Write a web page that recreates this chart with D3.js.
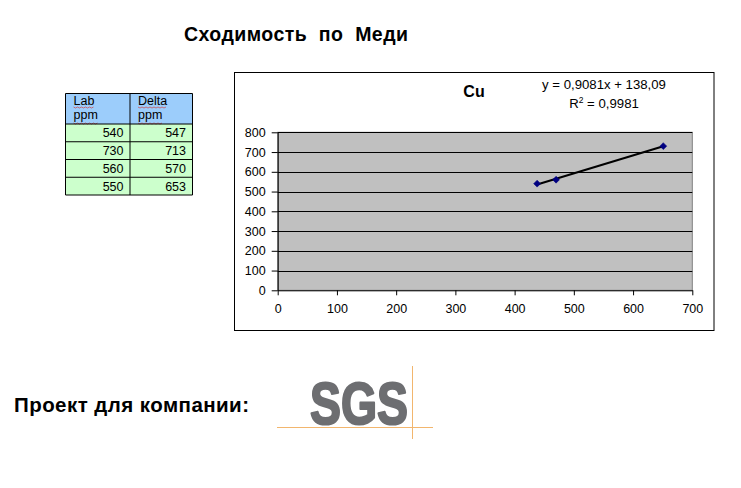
<!DOCTYPE html>
<html><head><meta charset="utf-8">
<script src="https://cdn.jsdelivr.net/npm/d3@7/dist/d3.min.js"></script>
<style>html,body{margin:0;padding:0;background:#fff;}svg{display:block;}text{font-family:"Liberation Sans",Arial,sans-serif;}</style>
</head><body>
<svg id="c" width="741" height="488"></svg>
<script>
// ---- data ----
const pageTitle = "Сходимость  по  Меди";
const footerText = "Проект для компании:";
const logoText = "SGS";
const tableHeaders = [["Lab", "ppm"], ["Delta", "ppm"]];
const labValues = [540, 730, 560, 550];
const deltaValues = [547, 713, 570, 653];
const chartTitle = "Cu";
const xValues = [438, 470, 651];
const yValues = [540, 560, 730];
const trendSlope = 0.9081;
const trendIntercept = 138.09;
const equationText = "y = 0,9081x + 138,09";
const r2Text = "0,9981";
const xTicks = [0, 100, 200, 300, 400, 500, 600, 700];
const yTicks = [0, 100, 200, 300, 400, 500, 600, 700, 800];

const svg = d3.select("#c");
svg.append("rect").attr("width", 741).attr("height", 488).attr("fill", "#fff");

// page title
svg.append("text").attr("x", 184).attr("y", 41).attr("font-size", 19.5).attr("font-weight", "bold")
  .attr("textLength", 224).attr("lengthAdjust", "spacing")
  .attr("xml:space", "preserve").style("white-space", "pre").text(pageTitle);

// ---- table ----
const colX = [65.5, 130, 192.5];
const headTop = 93.5, bodyTop = 124, rowH = 17.75;
const tg = svg.append("g");
tg.append("rect").attr("x", colX[0]).attr("y", headTop).attr("width", colX[2] - colX[0]).attr("height", bodyTop - headTop)
  .attr("fill", "#9ccdfb");
tg.append("rect").attr("x", colX[0]).attr("y", bodyTop).attr("width", colX[2] - colX[0]).attr("height", rowH * labValues.length)
  .attr("fill", "#ccffcc");
tableHeaders.forEach((h, i) => {
  h.forEach((w, j) => {
    const tx = colX[i] + 8, ty = 105 + j * 13.5;
    const t = tg.append("text").attr("x", tx).attr("y", ty).attr("font-size", 12.5).text(w);
    const wlen = t.node().getComputedTextLength();
    // spell-check squiggle
    const pts = [];
    for (let k = 0; k <= wlen; k += 2) pts.push([tx + k, ty + 2 + (((k / 2) % 2) ? 1 : 0) + (j === 1 ? 2.5 : 0)]);
    tg.append("path").attr("d", d3.line()(pts)).attr("fill", "none").attr("stroke", "#d04040").attr("stroke-width", 0.7);
  });
});
const rows = labValues.map((v, i) => [v, deltaValues[i]]);
rows.forEach((r, i) => {
  r.forEach((v, j) => {
    tg.append("text").attr("x", colX[j + 1] - 6.5).attr("y", bodyTop + rowH * i + rowH / 2 + 4.5)
      .attr("font-size", 12.5).attr("text-anchor", "end").text(v);
  });
});
// grid lines of table
const hl = [headTop, bodyTop].concat(labValues.map((_, i) => bodyTop + rowH * (i + 1)));
hl.forEach(y => tg.append("line").attr("x1", colX[0]).attr("x2", colX[2]).attr("y1", y).attr("y2", y).attr("stroke", "#000"));
colX.forEach(x => tg.append("line").attr("x1", x).attr("x2", x).attr("y1", headTop).attr("y2", hl[hl.length - 1]).attr("stroke", "#000"));

// ---- chart ----
svg.append("rect").attr("x", 234.5).attr("y", 72.5).attr("width", 479.5).attr("height", 258)
  .attr("fill", "#fff").attr("stroke", "#000");
const pl = 277.7, pr = 692.3, pt = 132.3, pb = 290.3;
const x = d3.scaleLinear().domain([0, 700]).range([pl, pr]);
const y = d3.scaleLinear().domain([0, 800]).range([pb, pt]);

svg.append("rect").attr("x", pl).attr("y", pt).attr("width", pr - pl).attr("height", pb - pt)
  .attr("fill", "#c0c0c0").attr("stroke", "#808080");
svg.append("g").selectAll("line").data(yTicks.filter(d => d > 0)).join("line")
  .attr("x1", pl).attr("x2", pr).attr("y1", d => Math.round(y(d)) + 0.5).attr("y2", d => Math.round(y(d)) + 0.5)
  .attr("stroke", "#000");

const yAxis = svg.append("g").attr("transform", `translate(${pl},0)`)
  .call(d3.axisLeft(y).tickValues(yTicks).tickSize(6).tickPadding(6).tickSizeOuter(0));
const xAxis = svg.append("g").attr("transform", `translate(0,${pb})`)
  .call(d3.axisBottom(x).tickValues(xTicks).tickSize(5).tickPadding(9).tickSizeOuter(0));
[yAxis, xAxis].forEach(a => {
  a.selectAll("text").attr("font-size", 12.5).attr("fill", "#000").attr("font-family", "Liberation Sans, Arial, sans-serif");
  a.selectAll("line").attr("stroke", "#000");
  a.select(".domain").attr("stroke", "#000");
});

// trendline
const xMin = d3.min(xValues), xMax = d3.max(xValues);
svg.append("line").attr("x1", x(xMin)).attr("y1", y(trendSlope * xMin + trendIntercept))
  .attr("x2", x(xMax)).attr("y2", y(trendSlope * xMax + trendIntercept))
  .attr("stroke", "#000").attr("stroke-width", 2);

// markers
const pts = xValues.map((v, i) => [v, yValues[i]]);
svg.append("g").selectAll("path").data(pts).join("path")
  .attr("d", d3.symbol(d3.symbolSquare).size(24))
  .attr("transform", d => `translate(${x(d[0])},${y(d[1])}) rotate(45)`)
  .attr("fill", "#000080").attr("stroke", "#000080").attr("stroke-width", 0.5);

// chart title and equation
svg.append("text").attr("x", 474).attr("y", 97).attr("font-size", 16).attr("font-weight", "bold")
  .attr("text-anchor", "middle").text(chartTitle);
svg.append("text").attr("x", 604).attr("y", 89).attr("font-size", 13.2).attr("text-anchor", "middle").text(equationText);
const r2 = svg.append("text").attr("x", 604).attr("y", 107.5).attr("font-size", 13.2).attr("text-anchor", "middle");
r2.append("tspan").text("R");
r2.append("tspan").attr("dy", -5).attr("font-size", 8.5).text("2");
r2.append("tspan").attr("dy", 5).text(" = " + r2Text);

// footer
svg.append("text").attr("x", 14).attr("y", 412).attr("font-size", 20.5).attr("font-weight", "bold")
  .attr("textLength", 235).attr("lengthAdjust", "spacing").text(footerText);

// SGS logo
svg.append("line").attr("x1", 277).attr("x2", 433).attr("y1", 427.5).attr("y2", 427.5).attr("stroke", "#f2b66e").attr("stroke-width", 1);
svg.append("line").attr("x1", 412.5).attr("x2", 412.5).attr("y1", 366).attr("y2", 439).attr("stroke", "#f2b66e").attr("stroke-width", 1);
svg.append("text").attr("x", 310).attr("y", 424).attr("font-size", 59).attr("font-weight", "bold")
  .attr("fill", "#6d6e71").attr("stroke", "#6d6e71").attr("stroke-width", 2.2).attr("stroke-linejoin", "round")
  .attr("textLength", 98).attr("lengthAdjust", "spacingAndGlyphs").text(logoText);
</script>
</body></html>
